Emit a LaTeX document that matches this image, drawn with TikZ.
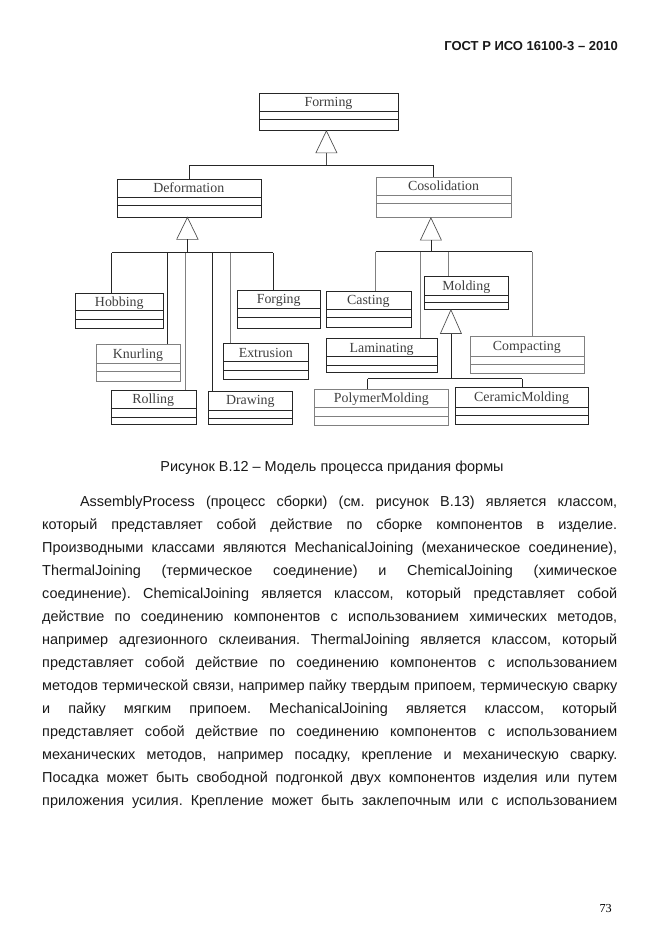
\documentclass[tikz,border=0pt]{standalone}
\usepackage{fontspec}
\setmainfont{Liberation Serif}
\newfontfamily\arialfont{Liberation Sans}
\usetikzlibrary{positioning}

\tikzset{
  classline/.style={line width=0.75pt, black!85},
  classgray/.style={line width=0.75pt, black!50},
  gen/.style={line width=0.6pt, black!70},
  classname/.style={font=\fontsize{12.5}{14}\selectfont, text=black!75, inner sep=0pt},
  pagetext/.style={font=\arialfont\fontsize{13}{20.7}\selectfont\frenchspacing, text=black!90, inner sep=0pt}
}

% style, name, left, top, right, bottom, divider 1, divider 2, label
\newcommand{\classbox}[9]{%
  \node[#1, draw, inner sep=0pt, anchor=north west,
        minimum width={(#5-#3)*0.9pt}, minimum height={(#6-#4)*0.9pt}] (#2) at (#3,#4) {};
  \draw[#1] (#3,#7) -- (#5,#7);
  \draw[#1] (#3,#8) -- (#5,#8);
  \node[classname, anchor=base] (#2-name) at ({(#3+#5)/2},{(#4+#7)/2+4.5}) {#9};
}
\newcommand{\jline}[1]{\makebox[\linewidth][s]{#1}}

\begin{document}
\begin{tikzpicture}[x=0.9pt, y=-0.9pt]
\useasboundingbox (0,0) rectangle (661,936);
\fill[white] (0,0) rectangle (661,936);

\node[pagetext, font=\arialfont\bfseries\fontsize{11.7}{14}\selectfont, anchor=base east] (gost) at (618,50) {ГОСТ Р ИСО 16100-3 – 2010};

% classes
\classbox{classline}{forming}{259.3}{92.7}{397.7}{130}{111.7}{119.3}{Forming}
\classbox{classline}{deformation}{117}{178.5}{260.5}{216.5}{197.3}{205.7}{Deformation}
\classbox{classgray}{cosolidation}{376}{177}{511}{217}{195.3}{203.3}{Cosolidation}
\classbox{classline}{hobbing}{75.3}{293.3}{163.3}{328.3}{310.7}{319.3}{Hobbing}
\classbox{classgray}{knurling}{96}{344.3}{180}{380.7}{363.3}{371.7}{Knurling}
\classbox{classline}{rolling}{110.7}{389.7}{195.7}{424}{408.3}{417.3}{Rolling}
\classbox{classline}{drawing}{208.3}{390.7}{292.3}{424.3}{410}{418.3}{Drawing}
\classbox{classline}{extrusion}{223.3}{343.3}{308.3}{379.3}{361.7}{370.7}{Extrusion}
\classbox{classline}{forging}{237.3}{290}{320}{328}{308.3}{317.3}{Forging}
\classbox{classline}{casting}{326}{291}{410.7}{327.3}{309}{317.7}{Casting}
\classbox{classline}{laminating}{326}{338.3}{437.3}{371.7}{356.7}{365.7}{Laminating}
\classbox{classline}{molding}{424.3}{276}{508.3}{309}{295}{302.3}{Molding}
\classbox{classgray}{compacting}{470}{335.7}{583.7}{372.7}{356.7}{364}{Compacting}
\classbox{classgray}{polymer}{314.3}{389}{448.3}{425}{407.7}{416.7}{PolymerMolding}
\classbox{classline}{ceramic}{455}{387.3}{588.3}{424.3}{407.3}{415.7}{CeramicMolding}

% Forming generalization
\path (forming.south) ++(-2.5,0) coordinate (f-apex);
\draw[gen] (f-apex) -- ++(-10.5,22) -- ++(21,0) -- cycle;
\path (f-apex) ++(0,22) coordinate (f-base);
\path (f-base) ++(0,13) coordinate (f-join);
\draw[gen] (f-base) -- (f-join);
\path (cosolidation.north west) ++(57.5,0) coordinate (cosolidation-top);
\draw[classline] (deformation.north) |- (f-join) -| (cosolidation-top);

% Deformation generalization
\path (deformation.south) ++(-1.75,0) coordinate (d-apex);
\draw[gen] (d-apex) -- ++(-10.7,22) -- ++(21.4,0) -- cycle;
\path (d-apex) ++(0,22) coordinate (d-base);
\path (d-base) ++(0,13.5) coordinate (d-join);
\draw[classline] (d-base) -- (d-join);
\foreach \name/\dx/\sty in {hobbing/36.4/classline, knurling/71.3/classline,
    rolling/75/classgray, drawing/4.4/classline, extrusion/7.4/classgray,
    forging/36/classline}
  \draw[\sty] (\name.north west) ++(\dx,0) coordinate (\name-top) -- (\name-top |- d-join);
\draw[classline] (hobbing-top |- d-join) -- (forging-top |- d-join);

% Cosolidation generalization
\path (cosolidation.south) ++(-13,0) coordinate (c-apex);
\draw[gen] (c-apex) -- ++(-10.5,22.3) -- ++(21,0) -- cycle;
\path (c-apex) ++(0,22.3) coordinate (c-base);
\path (c-base) ++(0,11.7) coordinate (c-join);
\draw[classline] (c-base) -- (c-join);
\foreach \name/\dx/\sty in {casting/49.7/classgray, laminating/94/classgray,
    molding/24/classgray, compacting/62.3/classgray}
  \draw[\sty] (\name.north west) ++(\dx,0) coordinate (\name-top) -- (\name-top |- c-join);
\draw[classline] (casting-top |- c-join) -- (compacting-top |- c-join);

% Molding generalization
\path (molding.south) ++(-15.8,0) coordinate (m-apex);
\draw[gen] (m-apex) -- ++(-10.5,23.7) -- ++(21,0) -- cycle;
\path (m-apex) ++(0,23.7) coordinate (m-base);
\path (m-base) ++(0,45) coordinate (m-join);
\draw[classline] (m-base) -- (m-join);
\foreach \name/\dx in {polymer/53.4, ceramic/67.3}
  \draw[classline] (\name.north west) ++(\dx,0) coordinate (\name-top) -- (\name-top |- m-join);
\draw[classline] (polymer-top |- m-join) -- (ceramic-top |- m-join);

% caption and text
\node[pagetext, anchor=base] (caption) at (332,471) {Рисунок В.12 – Модель процесса придания формы};

\node[pagetext, anchor=base west] (body) at (42,506) {\parbox[t]{517.5pt}{%
\jline{\hspace*{34pt}AssemblyProcess (процесс сборки) (см. рисунок В.13) является классом,}\\
\jline{который представляет собой действие по сборке компонентов в изделие.}\\
\jline{Производными классами являются MechanicalJoining (механическое соединение),}\\
\jline{ThermalJoining (термическое соединение) и ChemicalJoining (химическое}\\
\jline{соединение). ChemicalJoining является классом, который представляет собой}\\
\jline{действие по соединению компонентов с использованием химических методов,}\\
\jline{например адгезионного склеивания. ThermalJoining является классом, который}\\
\jline{представляет собой действие по соединению компонентов с использованием}\\
\jline{методов термической связи, например пайку твердым припоем, термическую сварку}\\
\jline{и пайку мягким припоем. MechanicalJoining является классом, который}\\
\jline{представляет собой действие по соединению компонентов с использованием}\\
\jline{механических методов, например посадку, крепление и механическую сварку.}\\
\jline{Посадка может быть свободной подгонкой двух компонентов изделия или путем}\\
\jline{приложения усилия. Крепление может быть заклепочным или с использованием}}};

\node[font=\fontsize{11}{13}\selectfont, inner sep=0pt, anchor=base east] (pageno) at (612,912) {73};
\end{tikzpicture}
\end{document}
